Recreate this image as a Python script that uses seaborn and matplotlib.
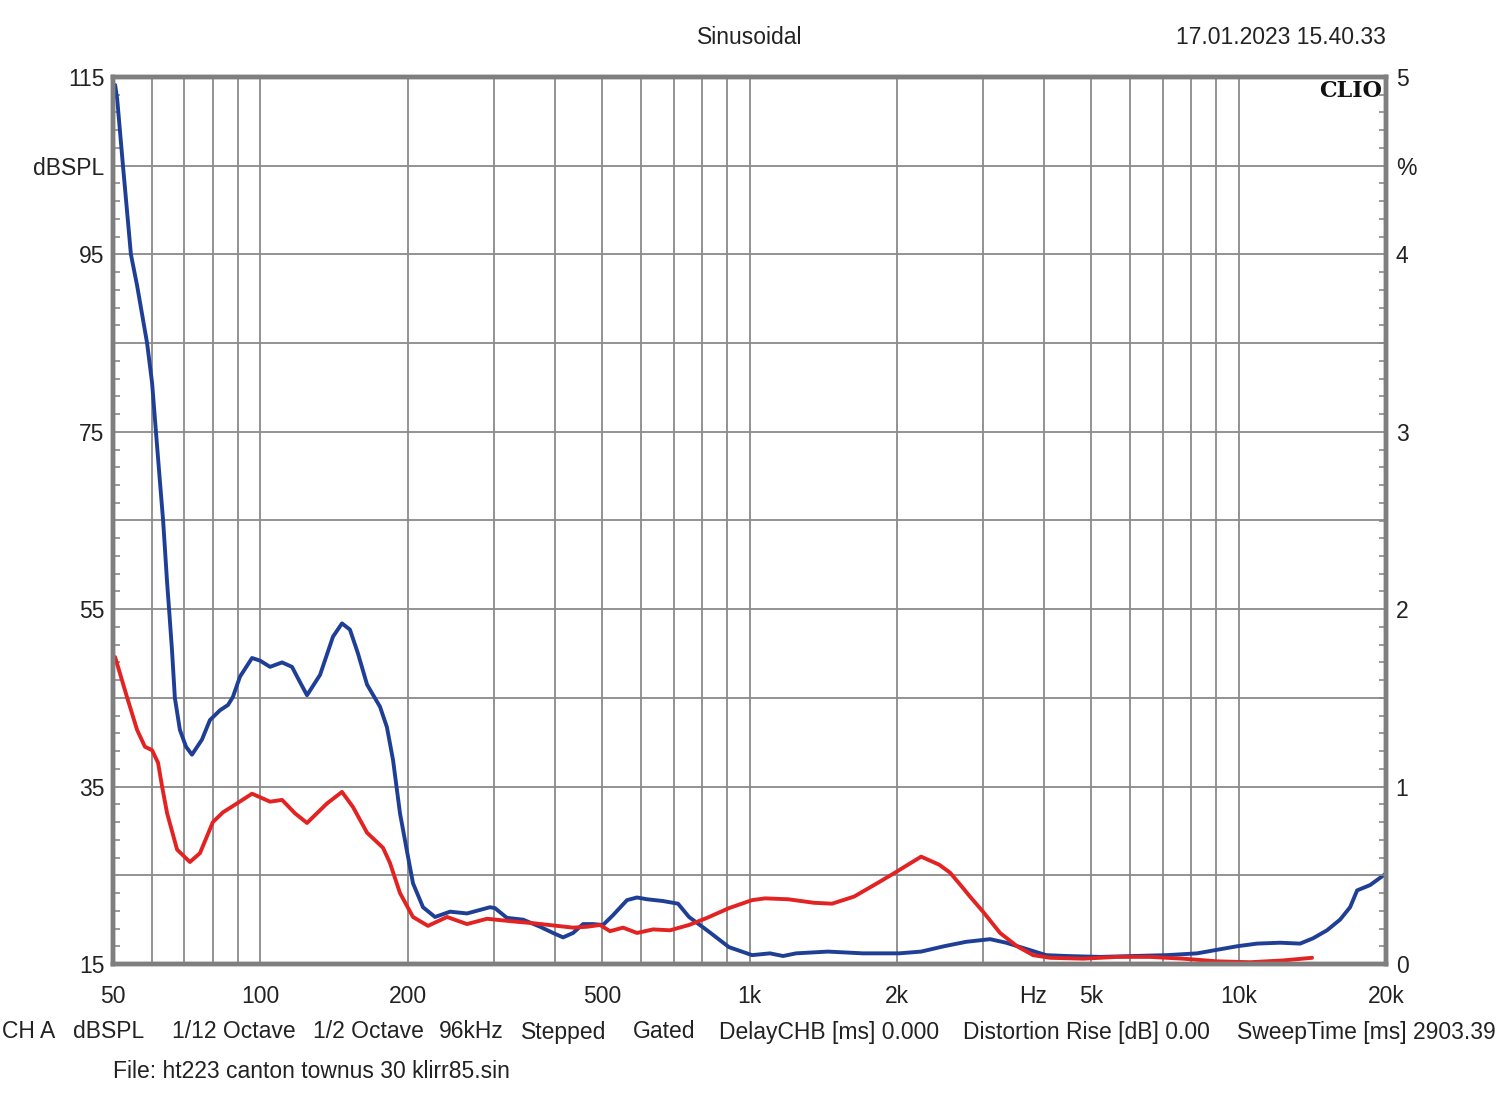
import numpy as np
import pandas as pd
import matplotlib
matplotlib.use("Agg")
import matplotlib.pyplot as plt
import seaborn as sns

# fundamental / distortion curves (Hz, dBSPL)
blue_freq = [50.5, 51.0, 52.4, 54.4, 56.0, 58.7, 60.1, 61.2, 62.4, 63.3, 64.5, 65.1, 66.0, 66.9,
             68.5, 70.5, 72.5, 76.0, 78.9, 82.7, 85.9, 87.9, 90.9, 96.2, 99.9, 104.7, 110.8,
             116.1, 120.5, 124.6, 132.5, 140.8, 146.9, 152.5, 158.4, 165.3, 175.7, 181.5, 186.8,
             193.0, 199.5, 205.2, 215.1, 227.6, 244.3, 264.6, 294.8, 301.8, 319.3, 344.5, 373.2,
             396.7, 415.8, 435.9, 456.9, 478.9, 501.9, 526, 561.8, 588.9, 617, 665.5, 714.3,
             752.3, 818.9, 908, 1012, 1101, 1171, 1245, 1447, 1706, 2022, 2243, 2498, 2771, 3103,
             3345, 3728, 4038, 4458, 5206, 6080, 7135, 8219, 9029, 9924, 10900, 12150, 13350,
             14190, 15150, 16110, 16890, 17460, 18560, 20000]
blue_db = [114.1, 112.5, 105.0, 95.0, 91.5, 85.0, 80.5, 75.0, 69.2, 65.0, 58.0, 55.0, 50.4, 45.0,
           41.4, 39.5, 38.6, 40.3, 42.5, 43.6, 44.2, 45.1, 47.4, 49.5, 49.2, 48.5, 49.0,
           48.5, 46.8, 45.3, 47.6, 51.9, 53.4, 52.7, 50.0, 46.5, 44.0, 41.7, 38.0,
           32.0, 27.7, 24.1, 21.4, 20.3, 20.9, 20.7, 21.4, 21.3, 20.2, 20.0, 19.2,
           18.5, 18.0, 18.5, 19.5, 19.5, 19.4, 20.5, 22.2, 22.5, 22.3, 22.1, 21.8,
           20.3, 18.8, 16.9, 16.0, 16.2, 15.9, 16.2, 16.4, 16.2, 16.2, 16.4, 17.0, 17.5, 17.8,
           17.4, 16.6, 16.0, 15.9, 15.8, 15.9, 16.0, 16.2, 16.6, 17.0, 17.3, 17.4, 17.3,
           17.9, 18.8, 20.0, 21.4, 23.3, 23.9, 25.2]

red_freq = [50.5, 53.4, 56.0, 58.1, 60.1, 61.8, 63.0, 64.5, 67.6, 71.8, 75.3, 80.0, 83.9, 89.6,
            96.2, 104.7, 110.8, 117.7, 124.6, 136.9, 146.9, 154.7, 165.3, 178.2, 184.1, 193.0,
            205.2, 220.2, 240.9, 264.6, 290.7, 328.5, 361.1, 404.2, 435.9, 465.5, 494.8, 518.7,
            551.3, 588.9, 635.2, 687.9, 752.3, 818.9, 908, 1012, 1076, 1199, 1355, 1475, 1636,
            1823, 1984, 2109, 2243, 2441, 2570, 2719, 2823, 3001, 3252, 3523, 3799, 4115, 4806,
            5640, 6590, 7695, 9029, 10550, 12320, 14120]
red_db = [49.6, 45.1, 41.4, 39.5, 39.1, 37.7, 35.0, 32.0, 27.9, 26.5, 27.5, 31.0, 32.1, 33.1,
          34.2, 33.3, 33.5, 32.0, 30.9, 33.1, 34.4, 32.7, 29.8, 28.1, 26.4, 23.0,
          20.3, 19.3, 20.3, 19.5, 20.1, 19.8, 19.6, 19.3, 19.1, 19.2, 19.4, 18.7,
          19.1, 18.5, 18.9, 18.8, 19.4, 20.2, 21.3, 22.2, 22.4, 22.3, 21.9, 21.8, 22.6,
          24.1, 25.3, 26.2, 27.1, 26.2, 25.3, 23.7, 22.6, 20.9, 18.5, 17.0, 16.0, 15.7, 15.6,
          15.8, 15.8, 15.6, 15.3, 15.2, 15.4, 15.7]

x_ticks = [50, 100, 200, 500, 1000, 2000, 3800, 5000, 10000, 20000]
x_labels = ["50", "100", "200", "500", "1k", "2k", "Hz", "5k", "10k", "20k"]
x_grid = [50, 60, 70, 80, 90, 100, 200, 300, 400, 500, 600, 700, 800, 900, 1000,
          2000, 3000, 4000, 5000, 6000, 7000, 8000, 9000, 10000, 20000]
left_ticks = [15, 25, 35, 45, 55, 65, 75, 85, 95, 105, 115]
left_labels = ["15", "", "35", "", "55", "", "75", "", "95", "dBSPL", "115"]
right_ticks = [0, 1, 2, 3, 4, 4.5, 5]
right_labels = ["0", "1", "2", "3", "4", "%", "5"]

footer = [(2, "CH A"), (73, "dBSPL"), (172, "1/12 Octave"), (313, "1/2 Octave"),
          (439, "96kHz"), (521, "Stepped"), (633, "Gated"), (719, "DelayCHB [ms] 0.000"),
          (963, "Distortion Rise [dB] 0.00"), (1237, "SweepTime [ms] 2903.39")]

sns.set_style("white")
plt.rcParams["font.family"] = ["Liberation Sans", "DejaVu Sans"]

df = pd.concat([
    pd.DataFrame({"freq": blue_freq, "db": blue_db, "curve": "fund"}),
    pd.DataFrame({"freq": red_freq, "db": red_db, "curve": "dist"}),
])

fig = plt.figure(figsize=(15, 11.1), dpi=100)
ax = fig.add_axes([113 / 1500, 1 - 964 / 1110, 1273 / 1500, 887 / 1110])

sns.lineplot(data=df, x="freq", y="db", hue="curve", palette={"fund": "#1f3f97", "dist": "#e32222"},
             estimator=None, sort=False, linewidth=2.8, legend=False, ax=ax)

ax.set_xscale("log")
ax.set_xlim(50, 20000)
ax.set_ylim(15, 115)
ax.set_xlabel("")
ax.set_ylabel("")

grid_col = "#8a8a8a"
ax.xaxis.remove_overlapping_locs = False
ax.set_xticks(x_ticks)
ax.set_xticklabels(x_labels)
ax.set_xticks(x_grid, minor=True)
ax.xaxis.set_minor_formatter(matplotlib.ticker.NullFormatter())
ax.tick_params(axis="x", which="both", length=0, pad=15, labelsize=16.5, colors="#222222")
ax.grid(False)
ax.grid(True, axis="x", which="minor", color=grid_col, linewidth=1.3)

ax.set_yticks(left_ticks)
ax.set_yticklabels(left_labels)
ax.set_yticks(np.arange(15, 116, 2), minor=True)
ax.yaxis.set_minor_formatter(matplotlib.ticker.NullFormatter())
ax.tick_params(axis="y", which="major", length=0, pad=6, labelsize=16.5, labelcolor="#222222")
ax.tick_params(axis="y", which="minor", direction="in", length=5, width=1.2, color=grid_col)
ax.grid(True, axis="y", which="major", color=grid_col, linewidth=1.3)

ax2 = ax.twinx()
ax2.set_ylim(0, 5)
ax2.set_yticks(right_ticks)
ax2.set_yticklabels(right_labels)
ax2.set_yticks(np.arange(0, 5.01, 0.1), minor=True)
ax2.yaxis.set_minor_formatter(matplotlib.ticker.NullFormatter())
ax2.tick_params(axis="y", which="major", length=0, pad=7, labelsize=16.5, labelcolor="#222222")
ax2.tick_params(axis="y", which="minor", direction="in", length=5, width=1.2, color=grid_col)
ax2.grid(False)

for a in (ax, ax2):
    for s in a.spines.values():
        s.set_visible(True)
        s.set_color("#7f7f7f")
        s.set_linewidth(3.2)

fig.text(750 / 1500, 1 - 38 / 1110, "Sinusoidal", ha="center", va="center", fontsize=16.5, color="#222222")
fig.text(1386 / 1500, 1 - 38 / 1110, "17.01.2023 15.40.33", ha="right", va="center", fontsize=16.5,
         color="#222222")
fig.text(1382 / 1500, 1 - 91 / 1110, "CLIO", ha="right", va="center", fontsize=16,
         fontweight="heavy", family=["DejaVu Serif"], color="#111111")

for xp, txt in footer:
    fig.text(xp / 1500, 1 - 1032 / 1110, txt, ha="left", va="center", fontsize=16.5, color="#222222")
fig.text(113 / 1500, 1 - 1072 / 1110, "File: ht223 canton townus 30 klirr85.sin", ha="left",
         va="center", fontsize=16.5, color="#222222")

fig.savefig("out.png", dpi=100, facecolor="white")
